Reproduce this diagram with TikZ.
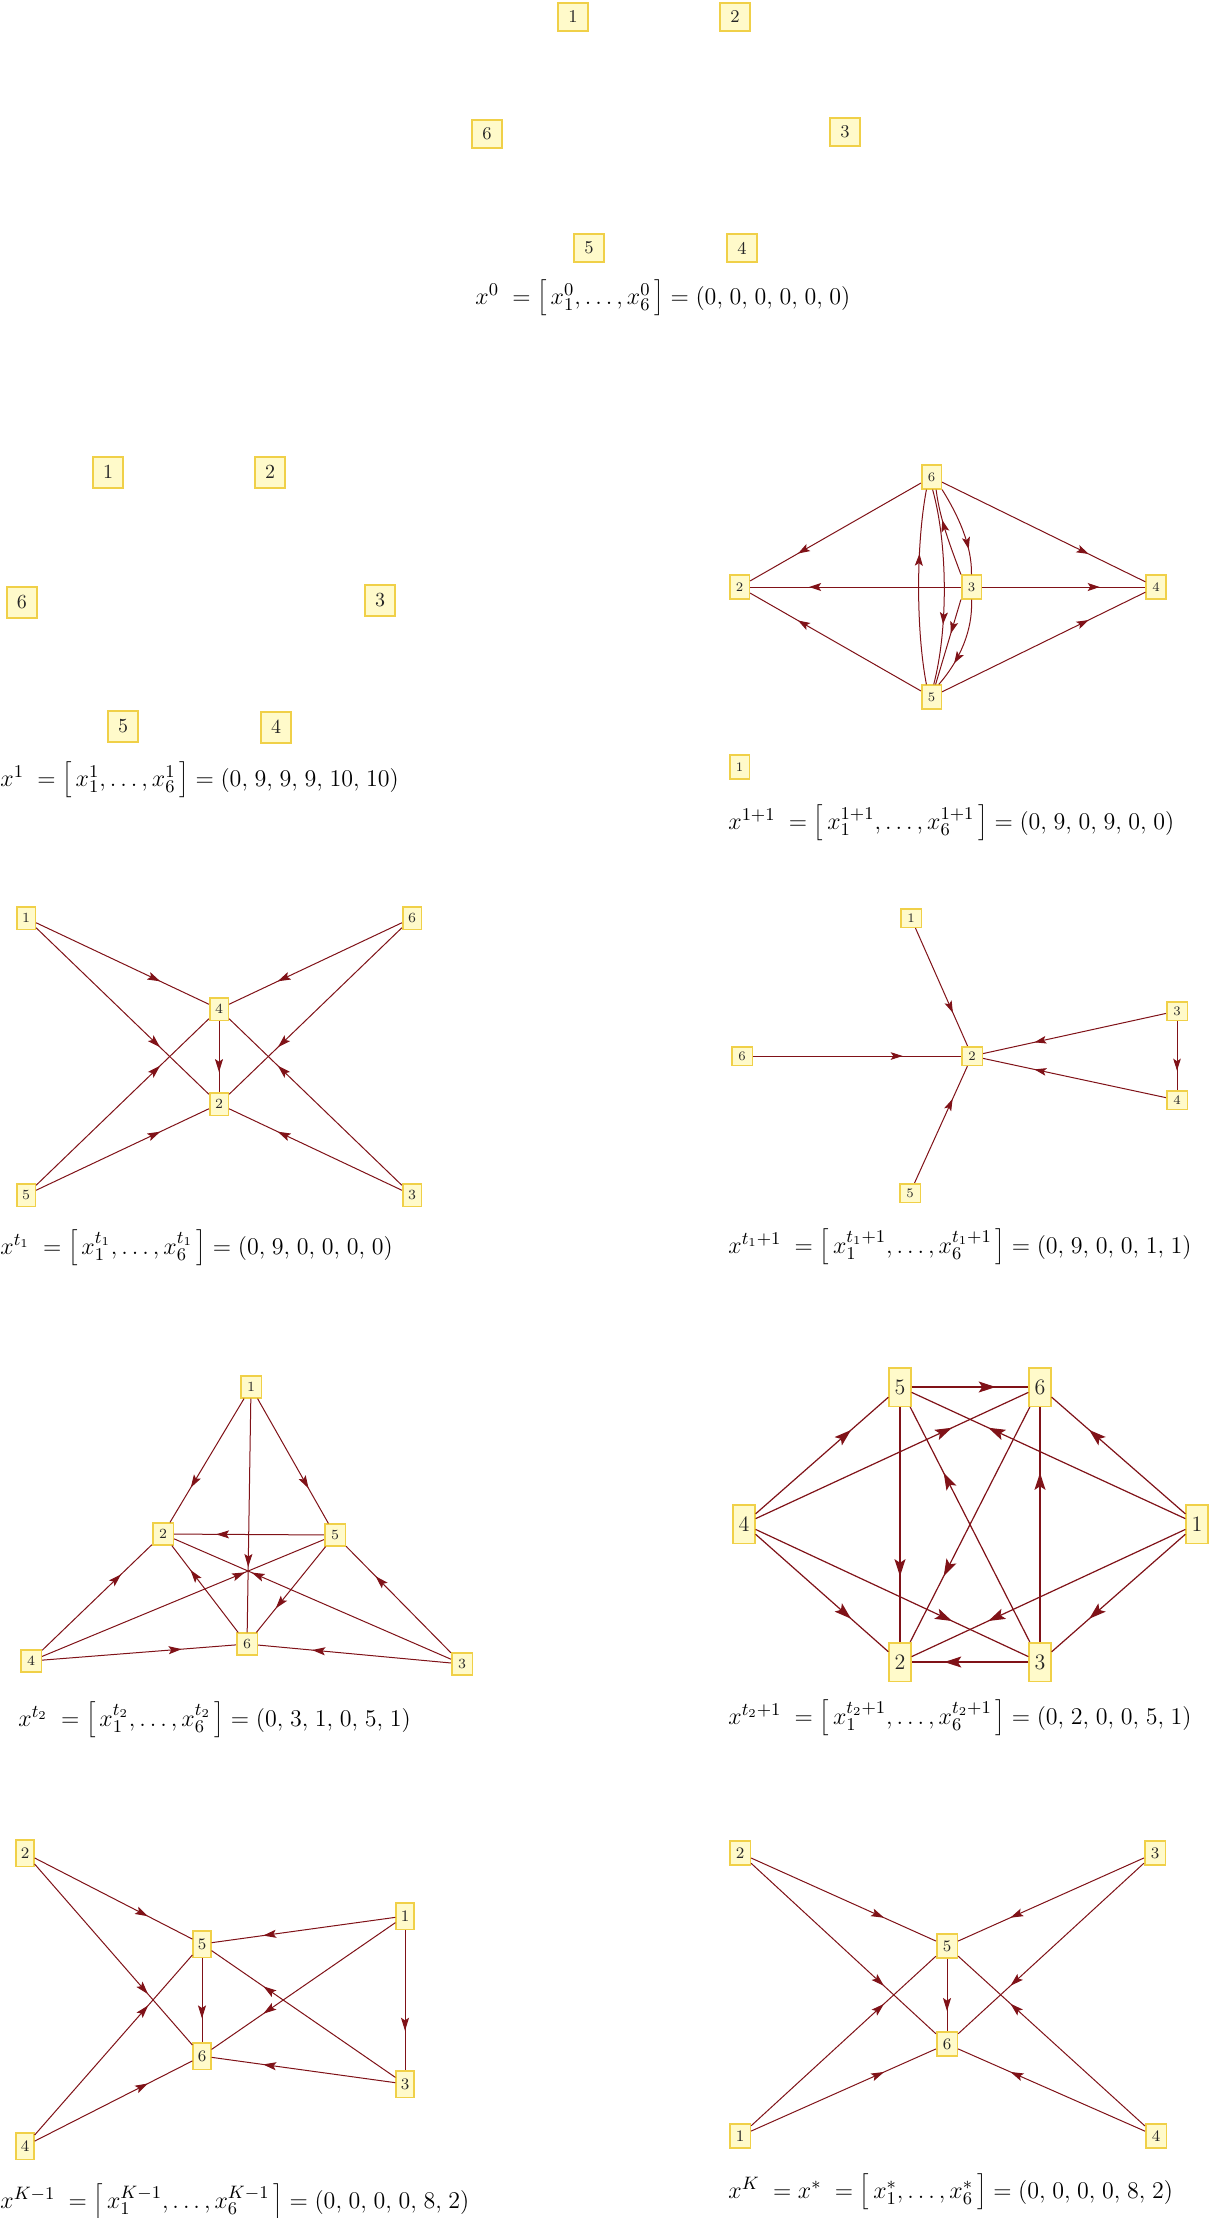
\documentclass[tikz,border=0pt]{standalone}
\usetikzlibrary{arrows.meta,decorations.markings}
\definecolor{edc}{RGB}{128,18,24}
\definecolor{ndf}{RGB}{255,250,202}
\definecolor{ndb}{RGB}{240,208,72}
\newcommand{\cm}{,\mkern2mu}
\tikzset{
  nd/.style={draw=ndb, fill=ndf, line width=0.8pt, inner sep=0pt, text=black!85},
  pA/.style={nd, line width=1pt, minimum width=15pt, minimum height=14pt, font=\fontsize{9}{9}\selectfont},
  pB/.style={nd, line width=1pt, minimum width=15pt, minimum height=15.5pt, font=\fontsize{10}{10}\selectfont},
  pC/.style={nd, minimum width=9.8pt, minimum height=11.8pt, font=\fontsize{6.5}{6.5}\selectfont},
  pD/.style={nd, minimum width=9.3pt, minimum height=11.3pt, font=\fontsize{7}{7}\selectfont},
  pE/.style={nd, minimum width=10.3pt, minimum height=9.3pt, font=\fontsize{6.5}{6.5}\selectfont},
  pF/.style={nd, minimum width=10.3pt, minimum height=10.8pt, font=\fontsize{7}{7}\selectfont},
  pG/.style={nd, minimum width=10.8pt, minimum height=19.3pt, font=\fontsize{11}{11}\selectfont},
  pH/.style={nd, minimum width=8.8pt, minimum height=13.3pt, font=\fontsize{8}{8}\selectfont},
  pK/.style={nd, minimum width=10.3pt, minimum height=11.8pt, font=\fontsize{8}{8}\selectfont},
  ed/.style={draw=edc, line width=0.5pt, postaction={decorate},
    decoration={markings, mark=at position #1 with {\arrow{>}}}},
  ed/.default=0.72,
  eq/.style={anchor=west, inner sep=0pt, font=\fontsize{13}{15}\selectfont},
}
\begin{document}
\begin{tikzpicture}[x=0.5pt, y=-0.5pt]
\useasboundingbox (0,0) rectangle (1210,2218);
\fill[white] (0,0) rectangle (1210,2218);

% ---------- panel 1 ----------
\node[pA] (a1) at (573,17) {1};
\node[pA] (a2) at (735,17) {2};
\node[pA] (a6) at (487,134) {6};
\node[pA] (a3) at (845,132) {3};
\node[pA] (a5) at (589,248) {5};
\node[pA] (a4) at (742,248) {4};
\node[eq] (eqa) at (475,298) {$x^{0}\;=\Bigl[\,x_1^{0},\ldots,x_6^{0}\,\Bigr]=(0\cm0\cm0\cm0\cm0\cm0)$};

% ---------- panel 2 ----------
\node[pB] (b1) at (108,472) {1};
\node[pB] (b2) at (270,472) {2};
\node[pB] (b6) at (22,602) {6};
\node[pB] (b3) at (380,600) {3};
\node[pB] (b5) at (123,726) {5};
\node[pB] (b4) at (276,727) {4};
\node[eq] (eqb) at (0,780) {$x^{1}\;=\Bigl[\,x_1^{1},\ldots,x_6^{1}\,\Bigr]=(0\cm9\cm9\cm9\cm10\cm10)$};

% ---------- panel 3 ----------
\begin{scope}[>={Stealth[length=6pt,width=4pt,inset=1.3pt]}]
\node[pC] (c6) at (931.5,477) {6};
\node[pC] (c2) at (739.5,587) {2};
\node[pC] (c3) at (971.5,587) {3};
\node[pC] (c4) at (1156,587) {4};
\node[pC] (c5) at (931.5,697) {5};
\node[pC] (c1) at (739.5,767) {1};
\draw[ed] (c6) -- (c2);
\draw[ed] (c6) -- (c4);
\draw[ed] (c3) -- (c2);
\draw[ed] (c3) -- (c4);
\draw[ed] (c5) -- (c2);
\draw[ed] (c5) -- (c4);
\draw[ed=0.67] (c5.112) .. controls (916,630) and (916,545) .. (c6.248);
\draw[ed=0.69] (c6.275) .. controls (948,545) and (948,630) .. (c5.80);
\draw[ed=0.65] (c3.north west) .. controls (950,545) and (940,520) .. (c6.290);
\draw[ed=0.72] (c6.south east) .. controls (958,515) and (972,545) .. (c3.north);
\draw[ed=0.4] (c3.south west) -- (c5.72);
\draw[ed=0.72] (c3.south) .. controls (973,630) and (960,660) .. (c5.60);
\end{scope}
\node[eq] (eqc) at (728,823) {$x^{1+1}\;=\Bigl[\,x_1^{1+1},\ldots,x_6^{1+1}\,\Bigr]=(0\cm9\cm0\cm9\cm0\cm0)$};

% ---------- panel 4 ----------
\begin{scope}[>={Stealth[length=6.5pt,width=4pt,inset=1.3pt]}]
\node[pD] (d1) at (26,918) {1};
\node[pD] (d6) at (412,918) {6};
\node[pD] (d4) at (219,1009) {4};
\node[pD] (d2) at (219,1104) {2};
\node[pD] (d5) at (26,1195) {5};
\node[pD] (d3) at (412,1195) {3};
\draw[ed] (d1) -- (d4);
\draw[ed] (d1) -- (d2);
\draw[ed] (d6) -- (d4);
\draw[ed] (d6) -- (d2);
\draw[ed] (d4) -- (d2);
\draw[ed] (d5) -- (d4);
\draw[ed] (d5) -- (d2);
\draw[ed] (d3) -- (d4);
\draw[ed] (d3) -- (d2);
\end{scope}
\node[eq] (eqd) at (0,1248) {$x^{t_1}\;=\Bigl[\,x_1^{t_1},\ldots,x_6^{t_1}\,\Bigr]=(0\cm9\cm0\cm0\cm0\cm0)$};

% ---------- panel 5 ----------
\begin{scope}[>={Stealth[length=6pt,width=3.8pt,inset=1.3pt]}]
\node[pE] (e1) at (911,918) {1};
\node[pE] (e3) at (1177,1011) {3};
\node[pE] (e6) at (742,1056) {6};
\node[pE] (e2) at (972,1056) {2};
\node[pE] (e4) at (1177,1100) {4};
\node[pE] (e5) at (910,1193) {5};
\draw[ed] (e1) -- (e2);
\draw[ed] (e6) -- (e2);
\draw[ed] (e3) -- (e2);
\draw[ed] (e4) -- (e2);
\draw[ed] (e5) -- (e2);
\draw[ed] (e3) -- (e4);
\end{scope}
\node[eq] (eqe) at (728,1247) {$x^{t_1+1}\;=\Bigl[\,x_1^{t_1+1},\ldots,x_6^{t_1+1}\,\Bigr]=(0\cm9\cm0\cm0\cm1\cm1)$};

% ---------- panel 6 ----------
\begin{scope}[>={Stealth[length=6.5pt,width=4pt,inset=1.3pt]}]
\node[pF] (f1) at (251,1387) {1};
\node[pF] (f2) at (163,1534) {2};
\node[pF] (f5) at (335,1535) {5};
\node[pF] (f6) at (247,1644) {6};
\node[pF] (f4) at (31,1661) {4};
\node[pF] (f3) at (462,1664) {3};
\draw[ed] (f1) -- (f2);
\draw[ed] (f1) -- (f5);
\draw[ed] (f1) -- (f6);
\draw[ed] (f5) -- (f2);
\draw[ed] (f4) -- (f2);
\draw[ed] (f4) -- (f5);
\draw[ed] (f6) -- (f2);
\draw[ed] (f5) -- (f6);
\draw[ed] (f3) -- (f5);
\draw[ed] (f3) -- (f2);
\draw[ed] (f4) -- (f6);
\draw[ed] (f3) -- (f6);
\end{scope}
\node[eq] (eqf) at (18,1720) {$x^{t_2}\;=\Bigl[\,x_1^{t_2},\ldots,x_6^{t_2}\,\Bigr]=(0\cm3\cm1\cm0\cm5\cm1)$};

% ---------- panel 7 ----------
\begin{scope}[>={Stealth[length=8.5pt,width=5.5pt,inset=1.8pt]}, ed/.append style={line width=0.6pt}]
\node[pG] (g5) at (900,1387) {5};
\node[pG] (g6) at (1040,1387) {6};
\node[pG] (g4) at (744,1524) {4};
\node[pG] (g1) at (1197,1524) {1};
\node[pG] (g2) at (900,1662) {2};
\node[pG] (g3) at (1040,1662) {3};
\draw[ed] (g5) -- (g6);
\draw[ed] (g4) -- (g5);
\draw[ed] (g4) -- (g6);
\draw[ed] (g1) -- (g6);
\draw[ed] (g1) -- (g5);
\draw[ed] (g5) -- (g2);
\draw[ed] (g6) -- (g2);
\draw[ed] (g3) -- (g5);
\draw[ed] (g3) -- (g6);
\draw[ed] (g4) -- (g2);
\draw[ed] (g4) -- (g3);
\draw[ed] (g1) -- (g2);
\draw[ed] (g1) -- (g3);
\draw[ed] (g3) -- (g2);
\end{scope}
\node[eq] (eqg) at (728,1718) {$x^{t_2+1}\;=\Bigl[\,x_1^{t_2+1},\ldots,x_6^{t_2+1}\,\Bigr]=(0\cm2\cm0\cm0\cm5\cm1)$};

% ---------- panel 8 ----------
\begin{scope}[>={Stealth[length=6.5pt,width=4pt,inset=1.3pt]}]
\node[pH] (h2) at (25,1853) {2};
\node[pH] (h1) at (405,1916) {1};
\node[pH] (h5) at (202,1944) {5};
\node[pH] (h6) at (202,2056) {6};
\node[pH] (h3) at (405,2084) {3};
\node[pH] (h4) at (25,2146) {4};
\draw[ed] (h2) -- (h5);
\draw[ed] (h2) -- (h6);
\draw[ed] (h1) -- (h5);
\draw[ed] (h1) -- (h6);
\draw[ed] (h1) -- (h3);
\draw[ed] (h5) -- (h6);
\draw[ed] (h3) -- (h5);
\draw[ed] (h3) -- (h6);
\draw[ed] (h4) -- (h5);
\draw[ed] (h4) -- (h6);
\end{scope}
\node[eq] (eqh) at (0,2202) {$x^{K-1}\;=\Bigl[\,x_1^{K-1},\ldots,x_6^{K-1}\,\Bigr]=(0\cm0\cm0\cm0\cm8\cm2)$};

% ---------- panel 9 ----------
\begin{scope}[>={Stealth[length=6.5pt,width=4pt,inset=1.3pt]}]
\node[pK] (k2) at (740,1853) {2};
\node[pK] (k3) at (1155,1853) {3};
\node[pK] (k5) at (947,1946) {5};
\node[pK] (k6) at (947,2044) {6};
\node[pK] (k1) at (740,2136) {1};
\node[pK] (k4) at (1156,2136) {4};
\draw[ed] (k2) -- (k5);
\draw[ed] (k2) -- (k6);
\draw[ed] (k3) -- (k5);
\draw[ed] (k3) -- (k6);
\draw[ed] (k5) -- (k6);
\draw[ed] (k1) -- (k5);
\draw[ed] (k1) -- (k6);
\draw[ed] (k4) -- (k5);
\draw[ed] (k4) -- (k6);
\end{scope}
\node[eq] (eqk) at (728,2192) {$x^{K}\;=x^{*}\;=\Bigl[\,x_1^{*},\ldots,x_6^{*}\,\Bigr]=(0\cm0\cm0\cm0\cm8\cm2)$};
\end{tikzpicture}
\end{document}
